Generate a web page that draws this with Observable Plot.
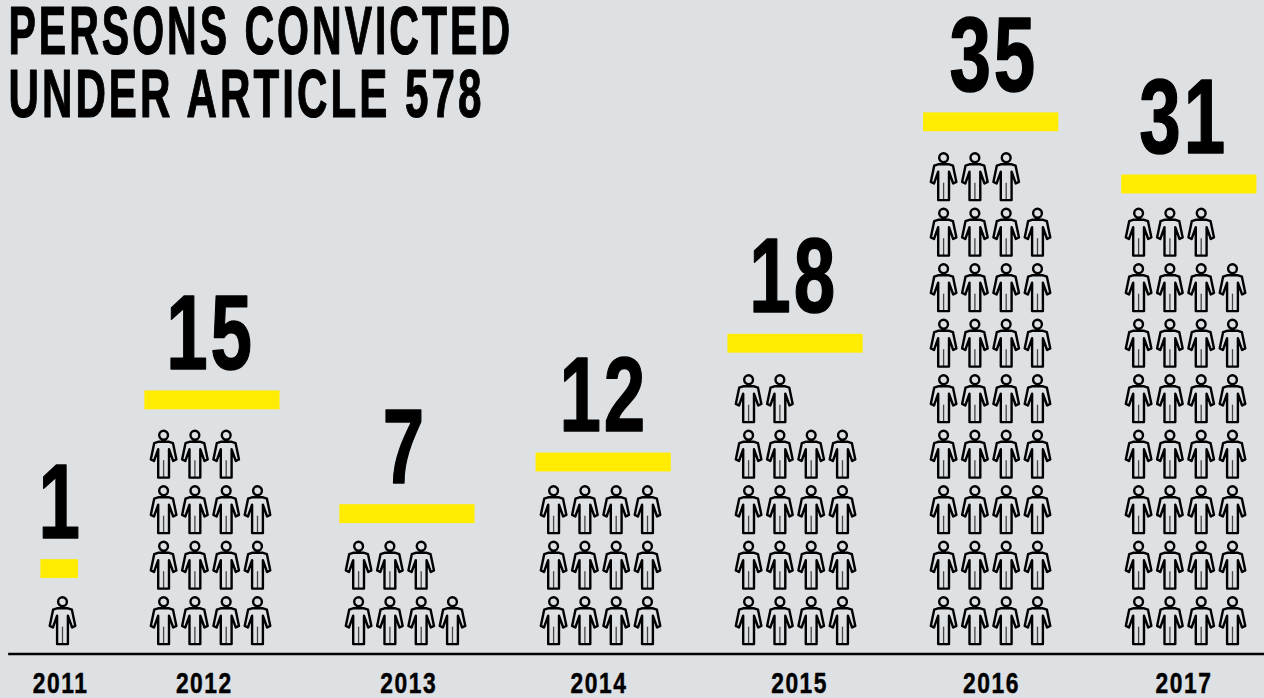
<!DOCTYPE html>
<html>
<head>
<meta charset="utf-8">
<script src="https://cdn.jsdelivr.net/npm/d3@7"></script>
<script src="https://cdn.jsdelivr.net/npm/@observablehq/plot@0.6"></script>
<style>
html,body{margin:0;padding:0;background:#dde1e4;overflow:hidden}
svg{display:block}
text{font-family:"Liberation Sans",sans-serif;font-weight:700}
.squeeze-title text{letter-spacing:5px}
.squeeze-num text{letter-spacing:4px}
.squeeze-year text{letter-spacing:2px}
</style>
</head>
<body>
<div id="chart"></div>
<script>
const years = ["2011","2012","2013","2014","2015","2016","2017"];
const convicted = [1,15,7,12,18,35,31];
const titleLines = ["PERSONS CONVICTED","UNDER ARTICLE 578"];

// layout settings, in chart units (columns of icons / rows of icons)
const perRow = 4, gapCols = 2.23;
const barRowOffset  = [.53,.57,.52,.45,.59,.58,.46];
const barCentreNudge= [-.09,.06,.06,.1,.0,.02,.12];
const numberNudge   = [-.06,0,-.02,.1,-.06,.1,-.06];
const yearNudge     = [-.06,-.2,.1,-.05,.13,.03,-.05];

const layout = [];
let start = 0;
years.forEach((year,i)=>{
  const n = convicted[i], cols = Math.min(n,perRow), rows = Math.ceil(n/perRow);
  const centre = start + (cols-1)/2;
  const half = cols === 1 ? .6 : cols/2 + .16;
  const c = centre + barCentreNudge[i];
  layout.push({year,n,rows,centre,start,x1:c-half,x2:c+half,
    numX:centre+numberNudge[i],yearX:centre+yearNudge[i],
    yMid:rows+barRowOffset[i]});
  start += cols + gapCols;
});
const people = layout.flatMap(d=>d3.range(d.n).map(j=>({col:d.start+j%perRow,row:Math.floor(j/perRow)})));

// person pictogram: 1 unit = 1 px at r = 24
const scaleOf = size => Math.sqrt(size/Math.PI)/24;
const person = {draw(ctx,size){
  const k = scaleOf(size);
  const P=(x,y)=>[x*k,y*k];
  ctx.moveTo(...P(4.4,-19)); ctx.arc(0,-19*k,4.4*k,0,2*Math.PI);
  [[-5.5,-12.4],[5.5,-12.4],[9.4,-11],[12.8,5.2],[9.6,6.8],[5.4,-5],[5.4,23.4],[-5.4,23.4],[-5.4,-5],[-9.6,6.8],[-12.8,5.2],[-9.4,-11]]
    .forEach((p,i)=>{const q=P(...p); i?ctx.lineTo(...q):ctx.moveTo(...q)});
  ctx.closePath();
}};
const legSplit = {draw(ctx,size){
  const k = scaleOf(size);
  ctx.moveTo(0,6*k); ctx.lineTo(0,23*k);
}};

const plot = Plot.plot({
  width:1264,height:698,margin:0,
  style:{background:"transparent",overflow:"visible"},
  x:{domain:[-62/31.3,(1264-62)/31.3],range:[0,1264],axis:null},
  y:{domain:[-(698-653.5)/55.5,653.5/55.5],range:[698,0],axis:null},
  marks:[
    Plot.rect(layout,{x1:"x1",x2:"x2",y1:d=>d.yMid-.17,y2:d=>d.yMid+.17,fill:"#ffec00"}),
    Plot.dot(people,{x:"col",y:d=>d.row+.6,r:24,symbol:legSplit,stroke:"#444",strokeWidth:1.3,fill:"none"}),
    Plot.dot(people,{x:"col",y:d=>d.row+.6,r:24,symbol:person,stroke:"#000",strokeWidth:2.4,strokeLinejoin:"round",fill:"none"}),
    Plot.ruleY([0],{x1:-1.72,x2:(1264-62)/31.3,stroke:"#000",strokeWidth:2.4}),
    Plot.text(layout,{x:"numX",y:d=>d.yMid+.17,text:d=>String(d.n),dy:-22,lineAnchor:"bottom",fontSize:105,fill:"#000",stroke:"#000",strokeWidth:1.5,className:"squeeze-num"}),
    Plot.text(layout,{x:"yearX",y:0,text:"year",dy:29,fontSize:30,fill:"#000",stroke:"#000",strokeWidth:.5,className:"squeeze-year"}),
    Plot.text([titleLines[0]],{text:d=>d,frameAnchor:"top-left",dx:8,dy:4,fontSize:69,fill:"#000",stroke:"#000",strokeWidth:1.2,className:"squeeze-title line-a"}),
    Plot.text([titleLines[1]],{text:d=>d,frameAnchor:"top-left",dx:8,dy:67,fontSize:69,fill:"#000",stroke:"#000",strokeWidth:1.2,className:"squeeze-title line-b"})
  ]
});
document.getElementById("chart").appendChild(plot);
// the reference type is condensed: squeeze the real text to its measured share
const squeeze = (sel,f)=>plot.querySelectorAll(sel+" text").forEach(t=>{
  t.setAttribute("textLength",t.getComputedTextLength()*f);
  t.setAttribute("lengthAdjust","spacingAndGlyphs");
});
squeeze(".squeeze-num",.71);
squeeze(".squeeze-year",.76);
squeeze(".line-a",.595);
squeeze(".line-b",.61);
</script>
</body>
</html>
